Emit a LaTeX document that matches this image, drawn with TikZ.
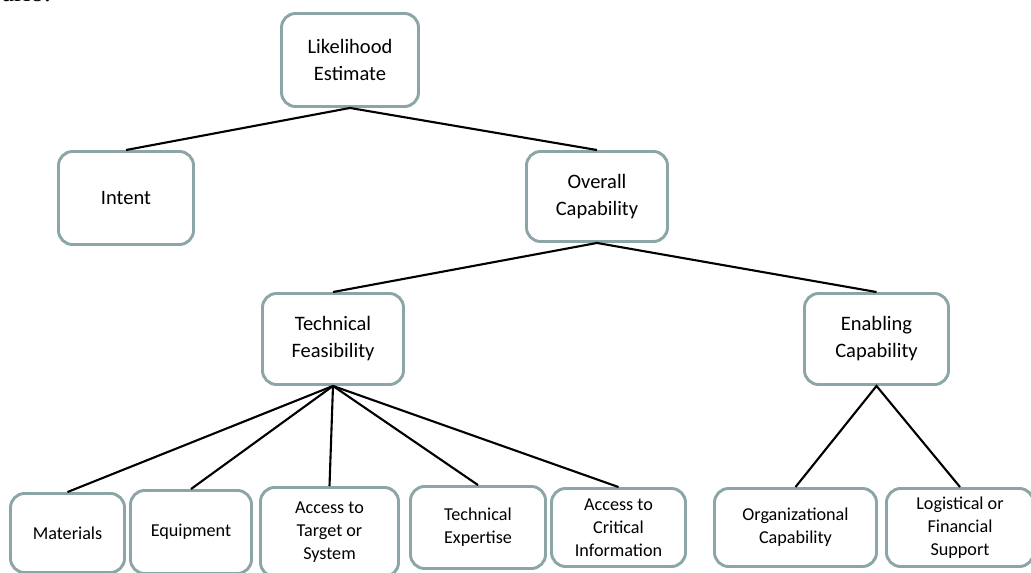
\documentclass[tikz,border=0pt]{standalone}
\usepackage{fontspec}
\setmainfont{Carlito}
\newfontfamily\pagefont{Liberation Serif}
\definecolor{boxline}{RGB}{140,166,168}

\begin{document}
\begin{tikzpicture}[x=0.03cm, y=-0.03cm,
    box/.style={draw=boxline, line width=2.5pt, rounded corners=12pt, inner sep=0pt,
      align=center, font=\fontsize{17.5}{23}\selectfont},
    leaf/.style={box, font=\fontsize{15.5}{19.5}\selectfont},
    boxsize/.style 2 args={minimum width=#1*0.03cm, minimum height=#2*0.03cm},
    link/.style={line width=1.8pt}]
  \useasboundingbox (0, 0) rectangle (1031, 573);

  % cut-off text of the page above
  \node[anchor=base east, font=\pagefont\fontsize{23}{27}\selectfont, inner sep=0pt] (pagetext) at (51, 2) {ario.};

  % upper levels
  \node[box, boxsize={137}{93}] (estimate) at (350, 60) {Likelihood\\Estimate};
  \node[box, boxsize={135}{93}] (intent) at (126, 198) {Intent};
  \node[box, boxsize={141}{90}] (overall) at (597, 196.5) {Overall\\Capability};
  \node[box, boxsize={141}{91}] (technical) at (333, 339) {Technical\\Feasibility};
  \node[box, boxsize={144}{91}] (enabling) at (876.5, 339) {Enabling\\Capability};

  % bottom row
  \node[leaf, boxsize={114}{79}] (materials) at (67.5, 533) {Materials};
  \node[leaf, boxsize={121}{83}] (equipment) at (191, 532) {Equipment};
  \node[leaf, boxsize={138}{89}] (target) at (329.5, 532) {Access to\\Target or\\System};
  \node[leaf, boxsize={135}{82}] (expertise) at (478, 527.5) {Technical\\Expertise};
  \node[leaf, boxsize={134}{78}] (information) at (618.5, 527.5) {Access to\\Critical\\Information};
  \node[leaf, boxsize={162}{78}] (organization) at (795.5, 527.5) {Organizational\\Capability};
  \node[leaf, boxsize={147}{78}] (support) at (960, 527.5) {Logistical or\\Financial\\Support};

  \draw[link] (intent.north) -- (estimate.south) -- (overall.north);
  \draw[link] (technical.north) -- (overall.south) -- (enabling.north);
  \foreach \leafname in {materials, equipment, target, expertise, information}
    \draw[link] (technical.south) -- (\leafname.north);
  \draw[link] (organization.north) -- (enabling.south) -- (support.north);
\end{tikzpicture}
\end{document}
